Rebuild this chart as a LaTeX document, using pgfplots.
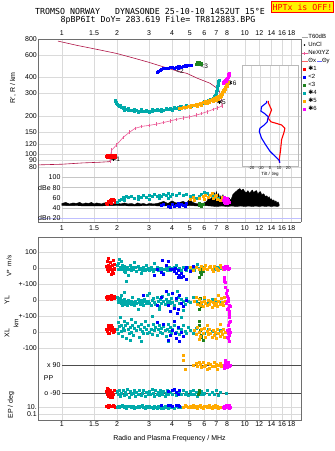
\documentclass[border=0pt]{standalone}
\usepackage{pgfplots}
\pgfplotsset{compat=1.18}
\usepackage{fontspec}
\setmainfont{Liberation Sans}
\newfontfamily\dv{DejaVu Sans}
\newfontfamily\mono{DejaVu Sans Mono}
\definecolor{cyanc}{RGB}{0,170,170}
\definecolor{orangec}{RGB}{255,170,0}
\definecolor{greenc}{RGB}{30,130,30}
\definecolor{bluec}{RGB}{0,0,255}
\definecolor{redc}{RGB}{255,0,0}
\definecolor{magc}{RGB}{255,0,255}
\definecolor{crim}{RGB}{175,20,70}
\definecolor{pinkc}{RGB}{235,90,150}
\definecolor{gridc}{RGB}{218,218,218}
\definecolor{framec}{RGB}{110,110,110}
\pgfplotsset{every axis/.append style={scale only axis,
    tick label style={font=\fontsize{7}{8}\selectfont},
    major tick length=0pt, minor tick length=0pt,
    grid style={gridc, line width=0.5pt},
    axis line style={framec, line width=0.6pt}}}
\begin{document}
\begin{tikzpicture}
\path[use as bounding box] (0pt,0pt) rectangle (335pt,-451pt);

% titles
\node[font=\mono\fontsize{8.3}{9}\selectfont] at (150pt,-11pt) {TROMSO NORWAY\ \ \ DYNASONDE 25-10-10 1452UT 15°E};
\node[font=\mono\fontsize{8.3}{9}\selectfont] at (158pt,-20pt) {8pBP6It DoY= 283.619 File= TR812883.BPG};
\node[draw=redc, fill=yellow, text=redc, line width=0.8pt, inner sep=1pt, minimum height=11pt, minimum width=62pt, font=\mono\fontsize{8.3}{9}\selectfont] at (302.5pt,-7pt) {HPTx is OFF!};

% ionogram panel
\begin{axis}[at={(38pt,-39pt)}, anchor=north west, width=263pt, height=131pt,
  xmode=log, xmin=0.74, xmax=20.3, ymode=log, ymin=75.7, ymax=800,
  xtick={1,1.5,2,3,4,5,6,7,8,10,12,14,16,18},
  xticklabels={1,1.5,2,3,4,5,6,7,8,10,12,14,16,18},
  axis x line*=top, axis y line*=box,
  ytick={80,90,100,120,150,200,300,400,600,800},
  yticklabels={80,90,100,120,150,200,300,400,600,800},
  yticklabel style={inner sep=1pt},
  xmajorgrids, ymajorgrids,
  legend style={at={(axis description cs:1.0,1.046)}, anchor=north west, draw=none, fill=none,
    font=\fontsize{6}{7}\selectfont, row sep=0.3pt, inner sep=0pt, cells={anchor=west},
    nodes={inner sep=0.6pt, text height=5pt, text depth=1.5pt}},
]
\addlegendimage{legend image code/.code={\draw[gray!70,line width=0.6pt](0pt,0pt)--(6pt,0pt);}}
\addlegendentry{T60dB}
\addlegendimage{legend image code/.code={\fill[black](3pt,0pt) circle (0.5pt);}}
\addlegendentry{UnCl}
\addlegendimage{legend image code/.code={\draw[pinkc,line width=0.5pt](0pt,0pt)--(6pt,0pt);\draw[pinkc,line width=0.5pt](3pt,-1.5pt)--(3pt,1.5pt);}}
\addlegendentry{NeXtYZ}
\addlegendimage{legend image code/.code={\draw[redc!60,line width=0.6pt](0pt,0pt)--(6pt,0pt);}}
\addlegendentry{Θx\,{\color{bluec!60}\rule[1.6pt]{5pt}{0.5pt}}Θy}
\addlegendimage{legend image code/.code={\fill[redc](1.5pt,-1.3pt) rectangle (4.1pt,1.3pt);}}
\addlegendentry{{\dv ✱}1}
\addlegendimage{legend image code/.code={\fill[bluec](1.5pt,-1.3pt) rectangle (4.1pt,1.3pt);}}
\addlegendentry{<2}
\addlegendimage{legend image code/.code={\fill[greenc](1.5pt,-1.3pt) rectangle (4.1pt,1.3pt);}}
\addlegendentry{<3}
\addlegendimage{legend image code/.code={\fill[cyanc](1.5pt,-1.3pt) rectangle (4.1pt,1.3pt);}}
\addlegendentry{{\dv ✱}4}
\addlegendimage{legend image code/.code={\fill[orangec](1.5pt,-1.3pt) rectangle (4.1pt,1.3pt);}}
\addlegendentry{{\dv ✱}5}
\addlegendimage{legend image code/.code={\fill[magc](1.5pt,-1.3pt) rectangle (4.1pt,1.3pt);}}
\addlegendentry{{\dv ✱}6}
\addplot[crim, line width=0.6pt, forget plot] coordinates {(0.74,83)(1.0,84)(1.3,86)(1.6,87)(1.83,88)(1.87,108)};
\addplot[crim, line width=0.6pt, forget plot] coordinates {(7.5,239)(7.5,260)(7.4,290)(7.18,324)(6.45,361)(5.5,395)(4.82,431)(4.42,444)(4.0,462)(3.5,490)(3.0,525)(2.5,565)(1.99,617)(1.61,657)(1.2,715)(0.95,771)};
\addplot[pinkc, line width=0.6pt, mark=|, mark size=1.8pt, forget plot] coordinates {(1.83,88)(1.87,108)(1.99,119)(2.16,136)(2.35,150)(2.51,160)(2.73,166)(3.0,169)(3.3,173)(3.6,178)(3.9,183)(4.2,188)(4.6,193)(5.0,197)(5.4,203)(5.8,209)(6.2,216)(6.7,225)(7.1,232)(7.5,239)};
\addplot[only marks, mark=square*, mark size=1.0pt, forget plot, redc] coordinates {(1.74,97)(1.76,96)(1.78,98)(1.8,97)(1.82,96)(1.84,98)(1.86,97)(1.88,96)(1.9,98)(1.92,97)(1.94,96)(1.96,98)(1.77,99)(1.83,99)(1.89,99)(1.95,95)};
\addplot[only marks, mark=square*, mark size=1.0pt, forget plot, cyanc] coordinates {(1.95,267)(1.96,261)(1.97,256)(1.99,250)(2.01,246)(2.03,243)(2.06,240)(2.09,237)(2.12,234)(2.15,231)(2.2,228)(2.25,226)(2.3,224)(2.35,223)(2.4,222)(2.45,221)(2.5,220)(2.55,221)(2.6,220)(2.65,219)(2.7,220)(2.75,219)(2.8,219)(2.85,220)(2.9,220)(2.95,219)(3.0,219)(3.05,220)(3.1,220)(3.15,221)(3.2,221)(3.25,222)(3.3,222)(3.4,222)(3.5,223)(3.6,224)(3.7,225)(3.8,226)(3.9,227)(4.0,228)(4.1,229)(4.2,230)(4.3,231)(4.4,232)(4.5,233)(4.6,234)(4.7,236)(4.8,237)(4.9,238)(5.0,239)(5.1,240)(5.2,241)(5.3,243)(5.4,244)(5.5,246)(5.6,247)(5.7,249)(5.8,251)(5.9,253)(6.0,255)(6.1,257)(6.2,260)(6.3,263)(6.4,266)(6.5,269)(6.6,273)(6.7,278)(6.8,284)(6.9,292)(6.95,300)(7.0,310)(7.05,320)(7.08,330)(7.1,340)(7.13,350)(7.16,360)(7.2,372)(7.22,380)
(2.08,245)(2.18,235)(2.3,230)(2.5,226)(2.7,225)(2.9,224)(3.1,225)(3.3,226)(3.5,228)(3.7,230)(3.9,231)(4.1,233)(4.3,236)(4.5,238)(4.8,242)(5.1,245)(5.4,249)(5.7,254)(6.0,260)(6.3,268)(2.2,221)(2.6,216)(3.0,215)(3.5,218)(4.0,222)(4.4,226)};
\addplot[only marks, mark=square*, mark size=1.0pt, forget plot, orangec] coordinates {(4.4,230)(4.5,232)(4.6,233)(4.7,235)(4.8,236)(4.9,238)(5.0,240)(5.1,241)(5.2,243)(5.3,244)(5.4,246)(5.5,247)(5.6,249)(5.7,251)(5.8,253)(5.9,255)(6.0,257)(6.1,259)(6.2,261)(6.3,263)(6.4,265)(6.5,268)(6.6,270)(6.7,272)(6.8,275)(6.9,277)(7.0,280)(7.1,283)(7.2,287)(7.3,292)(7.4,298)(7.5,306)(7.6,316)(7.7,327)(7.8,338)(7.9,349)(8.0,360)(8.1,370)
(5.5,240)(5.8,245)(6.1,250)(6.4,256)(6.7,262)(7.0,268)(7.2,272)(7.35,280)(7.45,288)(7.55,296)(7.7,310)(7.85,325)(8.0,342)(5.0,235)(6.2,254)(6.8,266)};
\addplot[only marks, mark=square*, mark size=1.0pt, forget plot, magc] coordinates {(7.6,360)(7.65,368)(7.7,375)(7.75,365)(7.8,372)(7.85,382)(7.9,378)(7.95,390)(8.0,398)(8.05,392)(8.1,405)(8.15,412)(8.2,420)(8.1,425)(8.2,432)(7.95,372)(8.0,385)(8.15,400)};
\addplot[only marks, mark=square*, mark size=1.0pt, forget plot, bluec] coordinates {(3.3,444)(3.35,452)(3.45,455)(3.5,468)(3.6,470)(3.7,474)(3.8,476)(3.9,478)(4.0,480)(4.1,477)(4.2,483)(4.3,486)(4.4,488)(4.5,485)(4.6,490)(4.7,495)(4.8,493)(4.9,498)(5.0,501)(5.1,500)(4.3,472)(4.5,478)};
\addplot[only marks, mark=square*, mark size=1.0pt, forget plot, greenc] coordinates {(5.45,505)(5.5,515)(5.55,520)(5.6,526)(5.65,530)(5.7,522)(5.75,517)(5.8,512)(5.6,510)(5.5,525)};
\node[font=\fontsize{6.5}{7}\selectfont, anchor=west, inner sep=0pt] at (axis cs:1.85,92) {{\dv ✱}1};
\node[font=\fontsize{6.5}{7}\selectfont, inner sep=0pt] at (axis cs:4.42,444) {<2};
\node[font=\fontsize{6.5}{7}\selectfont, inner sep=0pt] at (axis cs:6.0,487) {<3};
\node[font=\fontsize{6.5}{7}\selectfont, inner sep=0pt] at (axis cs:4.52,232) {{\dv ✱}4};
\node[font=\fontsize{6.5}{7}\selectfont, inner sep=0pt] at (axis cs:7.44,258) {{\dv ✱}5};
\node[font=\fontsize{6.5}{7}\selectfont, inner sep=0pt] at (axis cs:8.5,360) {{\dv ✱}6};
\end{axis}

% tilt inset
\begin{axis}[at={(242pt,-65pt)}, anchor=north west, width=56pt, height=101pt,
  xmin=-30.4, xmax=30.6, ymode=log, ymin=81.1, ymax=501,
  axis background/.style={fill=white}, axis line style={gray!55},
  xtick={-20,-10,0,10,20}, xticklabels={-20,-10,0,10,20},
  ytick={90,100,120,150,200,300,400}, yticklabels={},
  xmajorgrids, ymajorgrids,
  tick label style={font=\fontsize{4.1}{4.5}\selectfont, inner sep=0.2pt},
  xlabel={Tilt / deg}, xlabel style={font=\fontsize{4.5}{5}\selectfont, inner sep=0pt, at={(axis description cs:0.5,0)}, anchor=north, yshift=-6.5pt}]
\addplot[redc, line width=1.1pt] coordinates {(-1.8,262)(-1.8,254)(1.8,223)(-1.8,192)(1.1,180)(12.7,170)(16.3,160)(15.6,151)(12.7,130)(11.6,108)(10.1,90)(10.5,86)};
\addplot[bluec, line width=1.1pt] coordinates {(-3.6,262)(-3.6,254)(-9.1,236)(-9.8,218)(-6.2,210)(-1.8,197)(-2.9,180)(-6.2,170)(-10.9,160)(-11.6,151)(-9.1,134)(-4.7,119)(0,106)(5.4,97)(10.1,90)(10.9,86)};
\end{axis}

% dBe panel
\begin{axis}[at={(38pt,-170pt)}, anchor=north west, width=263pt, height=52pt,
  xmode=log, xmin=0.74, xmax=20.3, ymin=12.8, ymax=114.2,
  xtick={1,1.5,2,3,4,5,6,7,8,10,12,14,16,18},
  xticklabels={1,1.5,2,3,4,5,6,7,8,10,12,14,16,18},
  axis x line*=bottom, axis y line*=box, ytick=\empty, xmajorgrids]
\addplot[gray!45, forget plot] coordinates {(1,100)(20.3,100)};
\addplot[gray!45, forget plot] coordinates {(1,80)(20.3,80)};
\addplot[gray!45, forget plot] coordinates {(1,40)(20.3,40)};
\addplot[blue!25, forget plot] coordinates {(0.74,20)(20.3,20)};
\node[font=\fontsize{7}{8}\selectfont, anchor=east, inner sep=0.5pt] at (axis cs:0.99,100) {100};
\node[font=\fontsize{7}{8}\selectfont, anchor=east, inner sep=0.5pt] at (axis cs:0.99,80) {dBe 80};
\node[font=\fontsize{7}{8}\selectfont, anchor=east, inner sep=0.5pt] at (axis cs:0.99,60) {60};
\node[font=\fontsize{7}{8}\selectfont, anchor=east, inner sep=0.5pt] at (axis cs:0.99,40) {40};
\node[font=\fontsize{7}{8}\selectfont, anchor=east, inner sep=0.5pt] at (axis cs:0.99,20) {dBn 20};
\addplot[black, fill=black, line width=0.4pt, forget plot] coordinates {(1.0,49)(1.05,51)(1.1,48)(1.15,50)(1.2,49)(1.25,51)(1.3,48)(1.35,50)(1.4,49)(1.45,51)(1.5,48)(1.55,50)(1.6,49)(1.65,48)(1.7,50)(1.8,49)(1.9,48)(2.0,50)(2.1,48)(2.2,50)(2.3,48)(2.4,49)(2.5,47)(2.6,50)(2.7,48)(2.8,49)(2.9,47)(3.0,49)(3.2,48)(3.4,50)(3.6,53)(3.8,49)(4.0,54)(4.2,50)(4.4,51)(4.6,53)(4.8,50)(5.0,57)(5.2,51)(5.4,49)(5.6,48)(5.8,49)(6.0,50)(6.2,53)(6.4,62)(6.5,55)(6.6,66)(6.7,60)(6.8,70)(6.9,64)(7.0,72)(7.1,62)(7.2,68)(7.3,58)(7.4,64)(7.5,60)(7.6,66)(7.7,58)(7.8,62)(8.0,56)(8.2,60)(8.4,55)(8.6,66)(8.8,70)(9.0,73)(9.2,76)(9.4,78)(9.6,74)(9.8,77)(10.0,72)(10.2,70)(10.4,74)(10.6,69)(10.8,72)(11.0,75)(11.2,70)(11.4,73)(11.6,74)(11.8,67)(12.0,71)(12.2,72)(12.4,65)(12.6,68)(12.8,66)(13.0,62)(13.2,64)(13.4,60)(13.6,62)(13.8,57)(14.0,58)(14.2,54)(14.4,56)(14.6,52)(14.8,54)(15.0,50)(15.2,52)(15.4,48)
(15.4,44)(15.0,43)(14.5,44)(14.0,43)(13.5,44)(13.0,43)(12.5,44)(12.0,43)(11.5,44)(11.0,43)(10.5,44)(10.0,43)(9.5,44)(9.0,43)(8.5,44)(8.0,43)(7.5,44)(7.0,43)(6.5,44)(6.0,45)(5.5,44)(5.0,45)(4.5,44)(4.0,45)(3.5,44)(3.0,45)(2.5,44)(2.0,45)(1.5,44)(1.0,45)} -- cycle;
\addplot[only marks, mark=square*, mark size=1.0pt, forget plot, redc] coordinates {(1.75,50)(1.78,53)(1.8,51)(1.83,55)(1.86,54)(1.89,56)(1.92,55)(1.95,52)(1.77,48)(1.85,49)(1.87,58)(1.9,57)};
\addplot[only marks, mark=square*, mark size=1.0pt, forget plot, cyanc] coordinates {(2.0,52)(2.05,56)(2.1,58)(2.15,62)(2.2,60)(2.25,64)(2.3,61)(2.4,63)(2.5,60)(2.6,64)(2.7,62)(2.8,65)(2.9,61)(3.0,66)(3.1,63)(3.2,67)(3.3,64)(3.4,66)(3.5,63)(3.6,67)(3.7,65)(3.8,68)(3.9,64)(4.0,67)(4.2,66)(4.4,68)(4.6,65)(4.8,67)(5.0,64)(5.2,66)(5.4,60)(5.6,63)(5.8,67)(6.0,70)(6.2,68)(6.4,66)(6.6,63)(6.8,65)(7.0,62)(7.2,60)(2.2,56)(2.6,57)(3.0,58)(3.4,60)(3.8,60)};
\addplot[only marks, mark=square*, mark size=1.0pt, forget plot, bluec] coordinates {(3.5,45)(3.6,48)(3.8,44)(4.0,47)(4.1,43)(4.2,46)(4.3,49)(4.4,44)(4.5,47)(4.6,45)(4.8,50)(3.9,42)(4.7,43)};
\addplot[only marks, mark=square*, mark size=1.0pt, forget plot, greenc] coordinates {(5.6,45)(5.7,48)(5.8,44)(5.9,47)(5.65,50)};
\addplot[only marks, mark=square*, mark size=1.0pt, forget plot, orangec] coordinates {(5.0,58)(5.3,56)(5.6,60)(5.9,64)(6.1,66)(6.3,62)(6.5,65)(6.7,60)(6.9,63)(7.1,58)(7.3,56)(7.5,62)(7.7,60)(7.9,55)(6.0,58)(6.6,68)(7.0,66)(5.2,62)};
\addplot[only marks, mark=square*, mark size=1.0pt, forget plot, magc] coordinates {(7.6,55)(7.7,52)(7.8,58)(7.9,54)(8.0,60)(8.1,56)(8.2,52)(7.75,62)(8.05,50)(7.85,50)};
\end{axis}

% bottom frame
\begin{axis}[at={(38pt,-237pt)}, anchor=north west, width=263pt, height=183pt,
  xmode=log, xmin=0.74, xmax=20.3, ymin=-420, ymax=-237,
  xtick={1,1.5,2,3,4,5,6,7,8,10,12,14,16,18},
  xticklabels={1,1.5,2,3,4,5,6,7,8,10,12,14,16,18},
  xticklabel style={yshift=2pt},
  ytick={-252,-268,-284,-300,-316,-332,-348,-407,-414},
  yticklabels={100,0,+-100,0,+-100,0,-100,10.,0.1},
  yticklabel style={inner sep=1pt},
  xmajorgrids, ymajorgrids]
\end{axis}

% V*
\begin{axis}[at={(38pt,-237pt)}, anchor=north west, width=263pt, height=47pt, hide axis,
  xmode=log, xmin=0.74, xmax=20.3, ymin=-100, ymax=193.75]
\addplot[only marks, mark=square*, mark size=1.0pt, forget plot, cyanc] coordinates {(2.0,15)(2.02,-5)(2.04,30)(2.06,58)(2.08,5)(2.1,-10)(2.12,42)(2.14,20)(2.16,0)(2.18,-20)(2.2,10)(2.22,-25)(2.24,-8)(2.27,5)(2.3,-45)(2.32,-5)(2.35,15)(2.38,-12)(2.4,0)(2.43,8)(2.46,-10)(2.5,35)(2.53,5)(2.56,-18)(2.6,10)(2.63,-5)(2.67,0)(2.7,-30)(2.74,-12)(2.78,5)(2.82,-8)(2.86,-15)(2.9,20)(2.94,-5)(2.98,0)(3.02,-12)(3.06,8)(3.1,-5)(3.15,-18)(3.2,30)(3.25,-8)(3.3,2)(3.35,-12)(3.4,-3)(3.45,-15)(3.5,0)(3.55,-8)(3.6,-35)(3.65,-10)(3.7,5)(3.75,-15)(3.8,-5)(3.85,8)(3.9,-12)(3.95,0)(4.0,-8)(4.1,5)(4.2,20)(4.3,-10)(4.4,0)(4.5,-12)(4.6,5)(4.7,-5)(4.8,-15)(4.9,2)(5.0,-8)(5.1,5)(5.2,-3)(5.3,-12)(5.5,25)(5.6,0)(5.8,-8)(6.0,5)(6.2,-10)(6.5,2)(6.8,-5)(7.1,8)(7.3,-3)(2.26,-80)};
\addplot[only marks, mark=square*, mark size=1.0pt, forget plot, redc] coordinates {(1.74,10)(1.76,-5)(1.78,20)(1.8,-20)(1.82,5)(1.84,35)(1.86,-10)(1.88,15)(1.9,-30)(1.92,0)(1.94,25)(1.76,40)(1.8,60)(1.85,-40)(1.9,50)(1.78,-15)(1.88,-25)(1.83,10)(1.93,-5)};
\addplot[only marks, mark=square*, mark size=1.0pt, forget plot, bluec] coordinates {(3.3,-5)(3.5,-25)(3.6,-40)(3.7,20)(3.8,40)(4.0,-10)(4.1,-20)(4.2,-35)(4.3,-15)(4.4,-45)(4.5,-30)(4.6,-50)(4.7,-10)(4.8,5)(5.0,-20)(4.35,-60)(4.5,-55)(3.9,-5)(4.15,0)(5.2,10)(3.55,50)(3.2,-45)(4.8,-70)};
\addplot[only marks, mark=square*, mark size=1.0pt, forget plot, greenc] coordinates {(5.6,-10)(5.7,-25)(5.8,-40)(5.75,-5)(5.65,-55)(5.9,-20)};
\addplot[only marks, mark=square*, mark size=1.0pt, forget plot, orangec] coordinates {(5.4,5)(5.6,-5)(5.8,10)(6.0,0)(6.2,-10)(6.4,5)(6.6,-5)(6.8,10)(7.0,0)(7.2,-15)(7.4,5)(7.6,-5)(7.8,0)(6.1,15)(6.7,-20)(5.2,-15)(7.3,20)(5.0,8)(5.9,-8)(6.5,12)(7.1,-5)};
\addplot[only marks, mark=square*, mark size=1.0pt, forget plot, magc] coordinates {(7.6,5)(7.7,-5)(7.8,10)(7.9,0)(8.0,5)(8.1,-5)(8.2,0)(7.7,-60)(7.75,-75)(7.8,-90)(7.7,-80)(8.05,12)};
\end{axis}

% YL
\begin{axis}[at={(38pt,-284pt)}, anchor=north west, width=263pt, height=32pt, hide axis,
  xmode=log, xmin=0.74, xmax=20.3, ymin=-100, ymax=100]
\addplot[only marks, mark=square*, mark size=1.0pt, forget plot, cyanc] coordinates {(2.0,20)(2.02,5)(2.04,-15)(2.06,-5)(2.08,10)(2.1,-20)(2.12,0)(2.14,-30)(2.16,-10)(2.18,5)(2.2,-25)(2.22,-8)(2.24,-18)(2.27,-35)(2.3,0)(2.32,-22)(2.35,-12)(2.38,-28)(2.4,-5)(2.43,15)(2.46,-15)(2.5,-30)(2.53,-8)(2.56,-20)(2.6,5)(2.63,-12)(2.67,-25)(2.7,-2)(2.74,-15)(2.78,-32)(2.82,8)(2.86,-10)(2.9,-22)(2.94,30)(2.98,-5)(3.02,-18)(3.06,-35)(3.1,0)(3.15,12)(3.2,-15)(3.25,-25)(3.3,20)(3.35,-8)(3.4,-40)(3.45,5)(3.5,-18)(3.55,25)(3.6,-10)(3.65,-28)(3.7,8)(3.75,-15)(3.8,35)(3.85,-5)(3.9,-22)(3.95,10)(4.0,-12)(4.1,-30)(4.2,0)(4.3,15)(4.4,-20)(4.5,5)(4.6,-10)(4.7,-25)(4.8,10)(4.9,-5)(5.0,-15)(5.2,20)(5.4,-10)(5.6,5)(5.8,-20)(6.0,0)(6.3,-12)(6.6,8)(7.0,-5)(7.3,-15)(2.2,50)(2.6,-60)(3.0,45)(3.4,-55)(4.25,55)(4.6,-65)(2.1,30)};
\addplot[only marks, mark=square*, mark size=1.0pt, forget plot, redc] coordinates {(1.74,15)(1.76,22)(1.78,18)(1.8,25)(1.82,12)(1.84,20)(1.86,28)(1.88,10)(1.9,18)(1.92,24)(1.94,14)(1.76,8)(1.85,5)};
\addplot[only marks, mark=square*, mark size=1.0pt, forget plot, bluec] coordinates {(3.5,20)(3.8,-30)(4.0,40)(4.1,-50)(4.2,10)(4.3,-60)(4.4,30)(4.5,-20)(3.7,55)(4.6,-40)(4.8,0)(3.9,-70)(4.25,-80)(2.8,30)(3.3,-35)};
\addplot[only marks, mark=square*, mark size=1.0pt, forget plot, greenc] coordinates {(5.6,-20)(5.7,10)(5.8,-40)(5.65,-55)};
\addplot[only marks, mark=square*, mark size=1.0pt, forget plot, orangec] coordinates {(5.3,-10)(5.5,-25)(5.6,5)(5.7,-30)(5.8,-15)(5.9,-40)(6.0,-5)(6.1,-20)(6.2,-35)(6.3,0)(6.4,-25)(6.5,-10)(6.6,-45)(6.7,-15)(6.8,-30)(6.9,5)(7.0,-20)(7.1,-40)(7.2,-10)(7.3,-25)(7.4,10)(7.5,-15)(7.6,-30)(7.7,15)(7.8,-5)(6.0,20)(7.2,30)(5.4,15)};
\addplot[only marks, mark=square*, mark size=1.0pt, forget plot, magc] coordinates {(7.9,40)(8.0,25)(8.05,60)(8.1,10)(8.15,-10)(8.2,-30)(8.1,-50)(8.25,-70)(8.2,-90)(7.95,-20)(8.0,-60)(8.3,-40)(7.8,80)(8.05,-5)};
\end{axis}

% XL
\begin{axis}[at={(38pt,-316pt)}, anchor=north west, width=263pt, height=44pt, hide axis,
  xmode=log, xmin=0.74, xmax=20.3, ymin=-175, ymax=100]
\addplot[only marks, mark=square*, mark size=1.0pt, forget plot, cyanc] coordinates {(2.0,20)(2.02,60)(2.04,-10)(2.06,35)(2.08,90)(2.1,5)(2.12,45)(2.14,-25)(2.16,25)(2.18,70)(2.2,10)(2.22,40)(2.24,-40)(2.27,55)(2.3,15)(2.32,-5)(2.35,30)(2.38,80)(2.4,0)(2.43,45)(2.46,-20)(2.5,25)(2.53,60)(2.56,10)(2.6,35)(2.63,-30)(2.67,20)(2.7,50)(2.74,5)(2.78,-10)(2.82,30)(2.86,65)(2.9,15)(2.94,-5)(2.98,40)(3.02,0)(3.06,20)(3.1,-15)(3.15,50)(3.2,10)(3.25,30)(3.3,-20)(3.35,15)(3.4,45)(3.45,0)(3.5,25)(3.55,-10)(3.6,35)(3.65,10)(3.7,-25)(3.75,20)(3.8,50)(3.85,5)(3.9,30)(3.95,-5)(4.0,15)(4.1,40)(4.2,0)(4.3,25)(4.4,-15)(4.5,20)(4.6,45)(4.7,5)(4.8,-10)(4.9,30)(5.0,10)(5.2,-5)(5.4,25)(5.6,0)(5.8,15)(6.0,-10)(6.3,20)(6.6,5)(7.0,-5)(7.3,10)(2.25,110)(2.7,-60)(3.1,100)(3.8,-55)(2.35,-50)(4.5,95)};
\addplot[only marks, mark=square*, mark size=1.0pt, forget plot, redc] coordinates {(1.74,20)(1.76,5)(1.78,35)(1.8,15)(1.82,-5)(1.84,25)(1.86,10)(1.88,30)(1.9,0)(1.92,20)(1.94,8)(1.78,-8)(1.86,40)(1.8,45)};
\addplot[only marks, mark=square*, mark size=1.0pt, forget plot, bluec] coordinates {(3.6,50)(3.9,-20)(4.0,10)(4.2,-40)(4.3,30)(4.4,-60)(4.5,0)(4.1,70)(3.8,-50)(3.3,60)(4.6,-25)(4.15,-10)};
\addplot[only marks, mark=square*, mark size=1.0pt, forget plot, greenc] coordinates {(5.6,40)(5.7,10)(5.8,-20)(5.9,-50)(5.65,70)(5.75,-35)};
\addplot[only marks, mark=square*, mark size=1.0pt, forget plot, orangec] coordinates {(5.3,10)(5.4,-15)(5.5,30)(5.6,0)(5.7,-25)(5.8,15)(5.9,-10)(6.0,25)(6.1,-30)(6.2,5)(6.3,-15)(6.4,20)(6.5,-5)(6.6,-35)(6.7,10)(6.8,-20)(6.9,0)(7.0,-40)(7.1,15)(7.2,-10)(7.3,-25)(7.4,5)(7.5,-15)(7.6,20)(7.7,-30)(7.8,0)(6.2,45)(7.3,50)(5.6,-45)};
\addplot[only marks, mark=square*, mark size=1.0pt, forget plot, magc] coordinates {(8.2,90)(8.25,60)(8.1,40)(8.2,20)(8.3,0)(8.2,-20)(8.1,-40)(8.25,-55)(8.0,10)(8.3,70)(8.15,-10)(8.0,-30)};
\end{axis}

% PP
\begin{axis}[at={(38pt,-350pt)}, anchor=north west, width=263pt, height=50pt, hide axis,
  xmode=log, xmin=0.74, xmax=20.3, ymin=-135, ymax=186.4, clip=false]
\addplot[gray!60!black, line width=0.6pt, forget plot] coordinates {(1,90)(20.3,90)};
\addplot[gray!60!black, line width=0.6pt, forget plot] coordinates {(1,-90)(20.3,-90)};
\node[font=\fontsize{7}{8}\selectfont, anchor=east, inner sep=0.5pt] at (axis cs:0.99,90) {x 90};
\node[font=\fontsize{7}{8}\selectfont, anchor=east, inner sep=0.5pt] at (axis cs:0.99,-90) {o -90};
\node[font=\fontsize{7}{8}\selectfont, anchor=west, inner sep=0.5pt] at (axis cs:0.79,5) {PP};
\addplot[only marks, mark=square*, mark size=1.0pt, forget plot, redc] coordinates {(1.74,-80)(1.76,-100)(1.78,-70)(1.8,-110)(1.82,-90)(1.84,-75)(1.86,-105)(1.88,-85)(1.9,-95)(1.92,-70)(1.76,-60)(1.84,-115)(1.8,-65)(1.88,-120)};
\addplot[only marks, mark=square*, mark size=1.0pt, forget plot, cyanc] coordinates {(2.0,-80)(2.03,-100)(2.06,-70)(2.09,-110)(2.12,-90)(2.15,-75)(2.18,-105)(2.21,-85)(2.25,-95)(2.28,-65)(2.32,-115)(2.36,-80)(2.4,-100)(2.44,-90)(2.48,-70)(2.52,-110)(2.56,-85)(2.6,-95)(2.65,-75)(2.7,-105)(2.75,-90)(2.8,-70)(2.85,-110)(2.9,-85)(2.95,-95)(3.0,-80)(3.05,-100)(3.1,-65)(3.15,-90)(3.2,-110)(3.25,-75)(3.3,-95)(3.35,-85)(3.4,-105)(3.45,-70)(3.5,-90)(3.55,-100)(3.6,-80)(3.65,-110)(3.7,-90)(3.75,-70)(3.8,-100)(3.9,-85)(4.0,-95)(4.1,-75)(4.2,-105)(4.3,-90)(4.4,-80)(4.5,-100)(4.6,-70)(4.7,-95)(4.8,-85)(4.9,-105)(5.0,-80)(5.1,-95)(5.2,-70)(5.3,-100)(5.4,-85)(5.5,-110)(5.6,-75)(5.7,-95)(5.8,-80)(5.9,-100)(6.0,-90)(6.2,-75)(6.4,-100)(6.6,-85)(6.8,-95)(7.0,-70)(7.2,-105)(7.3,-85)(7.95,-90)};
\addplot[only marks, mark=square*, mark size=1.0pt, forget plot, bluec] coordinates {(3.8,-80)(4.0,-75)(4.2,-85)(4.4,-70)(4.3,-95)(4.1,-65)};
\addplot[only marks, mark=square*, mark size=1.0pt, forget plot, greenc] coordinates {(5.55,-95)(5.65,-85)(5.6,-75)};
\addplot[only marks, mark=square*, mark size=1.0pt, forget plot, orangec] coordinates {(4.6,150)(4.6,120)(4.7,60)(5.2,90)(5.4,100)(5.5,80)(5.7,95)(5.8,75)(5.9,105)(6.0,85)(6.1,90)(6.3,100)(6.4,70)(6.5,95)(6.6,85)(6.8,110)(6.9,80)(7.0,95)(7.1,65)(7.2,90)(7.3,100)(7.4,80)(7.5,90)(5.6,110)(6.2,60)};
\addplot[only marks, mark=square*, mark size=1.0pt, forget plot, magc] coordinates {(7.7,90)(7.8,100)(7.9,80)(8.0,95)(8.1,110)(8.2,85)(7.75,70)(7.85,120)(8.05,75)(8.15,100)(8.3,90)(7.95,105)};
\end{axis}

% EP
\begin{axis}[at={(38pt,-400pt)}, anchor=north west, width=263pt, height=20pt, hide axis,
  xmode=log, xmin=0.74, xmax=20.3, ymode=log, ymin=0.00193, ymax=1000]
\addplot[only marks, mark=square*, mark size=1.0pt, forget plot, redc] coordinates {(1.74,20)(1.76,15)(1.78,25)(1.8,12)(1.82,30)(1.84,18)(1.86,22)(1.88,14)(1.9,28)(1.92,16)(1.94,20)(1.96,12)};
\addplot[only marks, mark=square*, mark size=1.0pt, forget plot, cyanc] coordinates {(2.0,12)(2.03,20)(2.06,8)(2.1,15)(2.14,25)(2.18,10)(2.22,18)(2.26,6)(2.3,14)(2.35,22)(2.4,9)(2.45,16)(2.5,5)(2.55,12)(2.6,20)(2.65,8)(2.7,14)(2.75,24)(2.8,10)(2.85,6)(2.9,15)(2.95,9)(3.0,20)(3.05,7)(3.1,12)(3.15,5)(3.2,16)(3.25,9)(3.3,4)(3.35,13)(3.4,8)(3.45,18)(3.5,6)(3.55,11)(3.6,4)(3.65,14)(3.7,8)(3.75,20)(3.8,6)(3.85,10)(3.9,16)(3.95,7)(4.0,12)(4.1,5)(4.2,15)(4.3,9)(4.4,20)(4.5,7)(4.6,12)(4.7,25)(5.0,15)(6.0,20)(7.0,18)(7.3,12)};
\addplot[only marks, mark=square*, mark size=1.0pt, forget plot, bluec] coordinates {(3.8,25)(3.9,30)(4.0,20)(4.2,28)(4.3,35)(4.4,22)(3.5,30)};
\addplot[only marks, mark=square*, mark size=1.0pt, forget plot, orangec] coordinates {(4.6,10)(4.7,25)(4.8,15)(4.9,8)(5.0,20)(5.1,12)(5.2,30)(5.3,9)(5.4,18)(5.5,6)(5.6,14)(5.7,25)(5.8,10)(5.9,5)(6.0,16)(6.1,22)(6.2,8)(6.3,13)(6.4,28)(6.5,10)(6.6,6)(6.7,18)(6.8,12)(6.9,24)(7.0,8)(7.1,15)(7.2,5)(7.3,11)};
\addplot[only marks, mark=square*, mark size=1.0pt, forget plot, magc] coordinates {(7.6,10)(7.7,20)(7.8,14)(7.9,30)(8.0,8)(8.1,18)(8.2,25)(8.3,12)(8.25,6)(7.75,5)};
\end{axis}

% axis labels
\node[rotate=90, font=\fontsize{7}{8}\selectfont] at (13pt,-88pt) {R', R / km};
\node[rotate=90, font=\fontsize{6.5}{7}\selectfont] at (9pt,-266pt) {V* \ m/s};
\node[rotate=90, font=\fontsize{7}{8}\selectfont] at (7pt,-300pt) {YL};
\node[rotate=90, font=\fontsize{6.5}{7}\selectfont] at (16pt,-323pt) {km};
\node[rotate=90, font=\fontsize{7}{8}\selectfont] at (7pt,-333pt) {XL};
\node[rotate=90, font=\fontsize{7}{8}\selectfont] at (11pt,-405pt) {EP / deg};
\node[font=\fontsize{7}{8}\selectfont] at (169.5pt,-439pt) {Radio and Plasma Frequency / MHz};
\end{tikzpicture}
\end{document}
